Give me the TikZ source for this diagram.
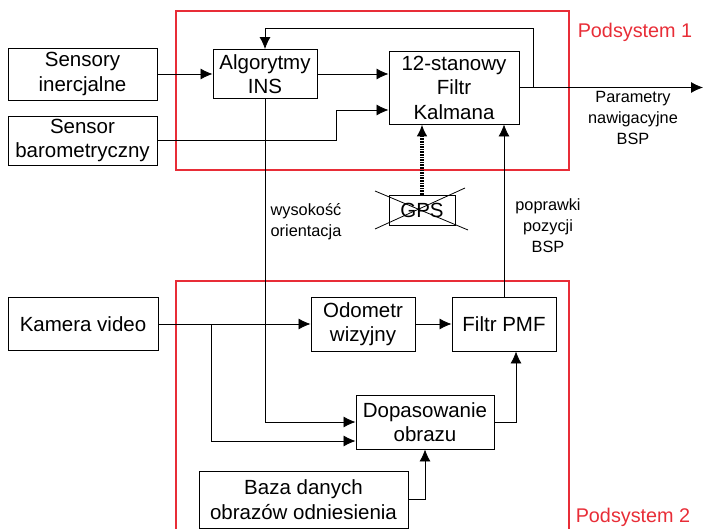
\documentclass[tikz,border=0pt]{standalone}
\usepackage{fontspec}
\setmainfont{Liberation Sans}
\usetikzlibrary{arrows.meta,calc}
\definecolor{subred}{RGB}{232,45,55}
\begin{document}
\begin{tikzpicture}[x=1pt,y=-1pt,
 blk/.style={draw, line width=0.9pt, align=center, inner sep=0pt, font=\fontsize{20.5}{24.5}\selectfont},
 conn/.style={line width=0.8pt, -{Latex[length=12pt,width=11pt]}},
 gpsarrow/.style={line width=3.2pt, dash pattern=on 1.6pt off 1pt, -{Latex[length=12pt,width=11pt]}},
 lbl/.style={align=center, font=\fontsize{16.3}{21}\selectfont},
 sub/.style={draw=subred, line width=1.5pt},
 subtxt/.style={text=subred, font=\fontsize{19.8}{22}\selectfont}]
\useasboundingbox (0,0) rectangle (704,529);
% subsystem frames
\draw[sub] (176,11) rectangle (569,170);
\draw[sub] (176,545) -- (176,281) -- (569,281) -- (569,545);
\node[subtxt] (p1) at (635,32) {Podsystem 1};
\node[subtxt] (p2) at (633,517) {Podsystem 2};
% blocks
\node[blk, minimum width=149pt, minimum height=52pt] (sens) at (82.5,74) {Sensory\\inercjalne};
\node[blk, minimum width=149pt, minimum height=49pt] (baro) at (82.5,140.5) {Sensor\\barometryczny};
\node[blk, minimum width=104pt, minimum height=49pt] (ins) at (265,74) {Algorytmy\\INS};
\node[blk, minimum width=130pt, minimum height=73pt] (kal) at (454,87.5) {12-stanowy\\Filtr\\Kalmana};
\node[blk, minimum width=66pt, minimum height=30pt] (gps) at (422,210) {GPS};
\node[blk, minimum width=150pt, minimum height=53pt] (cam) at (83,324) {Kamera video};
\node[blk, minimum width=104pt, minimum height=54pt] (odo) at (363,324) {Odometr\\wizyjny};
\node[blk, minimum width=104pt, minimum height=54pt] (pmf) at (504,324) {Filtr PMF};
\node[blk, minimum width=138pt, minimum height=54pt] (dop) at (425,422) {Dopasowanie\\obrazu};
\node[blk, minimum width=209pt, minimum height=57pt] (baza) at (303.5,499.5) {Baza danych\\obrazów odniesienia};
% GPS cross
\draw[line width=0.8pt] (375,191) -- (468,230);
\draw[line width=0.8pt] (375,229) -- (465,188);
% connectors
\draw[conn] (sens) -- (ins);
\draw[conn] (ins.east) -- (ins.east -| kal.west);
\draw[conn] (baro.east) -- ++(179,0) |- ([yshift=-22.5pt]kal.west);
\coordinate (out) at (703,87.5);
\draw[conn] (kal.east) -- (out);
\coordinate (fb) at (533,87.5);
\draw[conn] (fb) |- (265,28) -- (ins.north);
\draw[gpsarrow] (gps.north) -- (gps.north |- kal.south);
\draw[conn] (pmf.north) -- (pmf.north |- kal.south);
\draw[conn] (ins.south) |- (dop.west);
\draw[conn] (cam.east) -- (odo.west);
\coordinate (br) at (211,324);
\draw[conn] (br) |- ([yshift=-19pt]dop.west);
\draw[conn] (odo) -- (pmf);
\draw[conn] (dop.east) -| ([xshift=12pt]pmf.south);
\draw[conn] (baza.east) -| (dop.south);
% labels
\node[lbl] (l1) at (306,222) {wysokość\\orientacja};
\node[lbl] (l2) at (548,225.5) {poprawki\\pozycji\\BSP};
\node[lbl] (l3) at (633,118) {Parametry\\nawigacyjne\\BSP};
\end{tikzpicture}
\end{document}
